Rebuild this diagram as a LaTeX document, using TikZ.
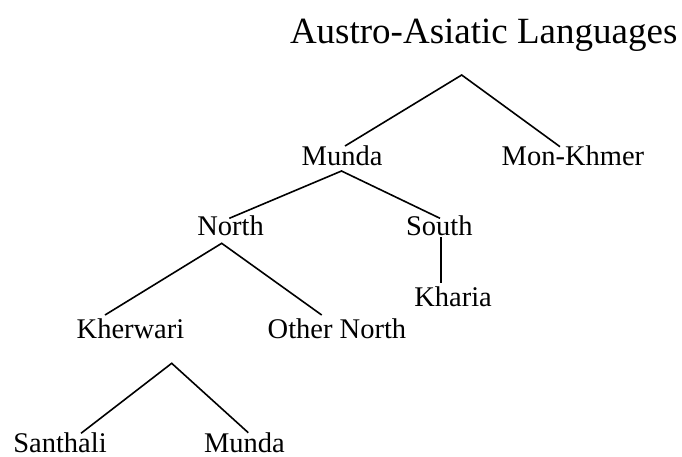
\documentclass[tikz,border=0pt]{standalone}
\usepackage{fontspec}
\setmainfont{Liberation Serif}
\begin{document}
\begin{tikzpicture}[x=1pt,y=-1pt,
  lbl/.style={anchor=base west,inner sep=0pt,outer sep=0pt,font=\fontsize{28.5}{30}\selectfont},
  rootlbl/.style={lbl,font=\fontsize{37}{40}\selectfont},
  branch/.style={line width=1.6pt,line cap=butt}]
\useasboundingbox (0,0) rectangle (682,456);

% labels
\node[rootlbl] (root) at (290,43) {Austro-Asiatic Languages};
\node[lbl] (munda) at (301.7,165) {Munda};
\node[lbl] (monkhmer) at (501.7,165) {Mon-Khmer};
\node[lbl] (north) at (197.3,235) {North};
\node[lbl] (south) at (406,235) {South};
\node[lbl] (kharia) at (414.3,306.7) {Kharia};
\node[lbl] (kherwari) at (76.7,338.3) {Kherwari};
\node[lbl] (othernorth) at (267.7,338.3) {Other North};
\node[lbl] (santhali) at (13.3,452.5) {Santhali};
\node[lbl] (mundaleaf) at (204,452.5) {Munda};

% branch points and branch ends
\coordinate (root-fork) at (461.7,75);
\coordinate (munda-top) at (345,146);
\coordinate (monkhmer-top) at (560,146.7);
\coordinate (munda-fork) at (341.5,171);
\coordinate (north-top) at (229.3,218.3);
\coordinate (south-top) at (440,218.3);
\coordinate (north-fork) at (221.7,243.3);
\coordinate (kherwari-top) at (105,315);
\coordinate (othernorth-top) at (321.7,315);
\coordinate (south-fork) at (441,237.3);
\coordinate (kharia-top) at (441,283.3);
\coordinate (kherwari-fork) at (171.7,363.3);
\coordinate (santhali-top) at (81,433.3);
\coordinate (mundaleaf-top) at (248.3,432.7);

% branches
\draw[branch] (munda-top) -- (root-fork) -- (monkhmer-top);
\draw[branch] (north-top) -- (munda-fork) -- (south-top);
\draw[branch] (kherwari-top) -- (north-fork) -- (othernorth-top);
\draw[branch] (south-fork) -- (kharia-top);
\draw[branch] (santhali-top) -- (kherwari-fork) -- (mundaleaf-top);
\end{tikzpicture}
\end{document}
